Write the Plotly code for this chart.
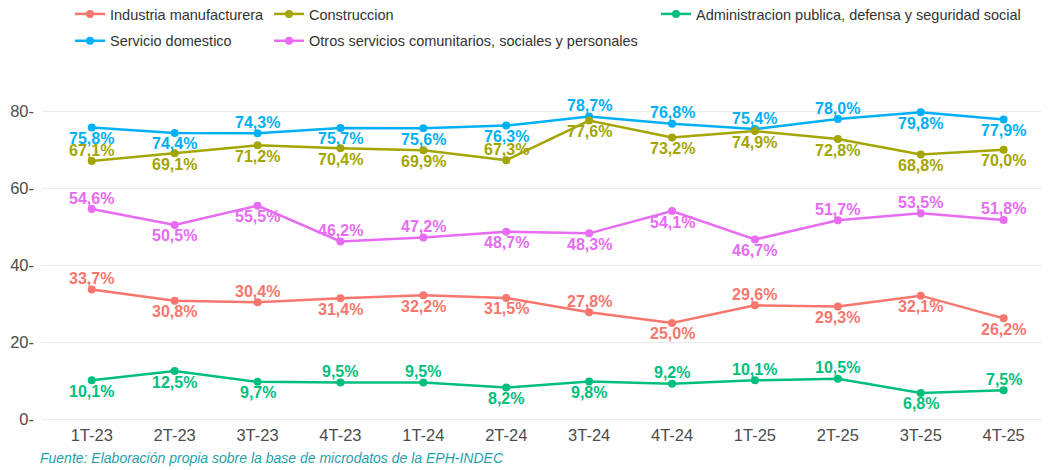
import plotly.graph_objects as go

quarters = ["1T-23", "2T-23", "3T-23", "4T-23", "1T-24", "2T-24",
            "3T-24", "4T-24", "1T-25", "2T-25", "3T-25", "4T-25"]

industria = [33.7, 30.8, 30.4, 31.4, 32.2, 31.5, 27.8, 25.0, 29.6, 29.3, 32.1, 26.2]
construccion = [67.1, 69.1, 71.2, 70.4, 69.9, 67.3, 77.6, 73.2, 74.9, 72.8, 68.8, 70.0]
administracion = [10.1, 12.5, 9.7, 9.5, 9.5, 8.2, 9.8, 9.2, 10.1, 10.5, 6.8, 7.5]
servicio = [75.8, 74.4, 74.3, 75.7, 75.6, 76.3, 78.7, 76.8, 75.4, 78.0, 79.8, 77.9]
otros = [54.6, 50.5, 55.5, 46.2, 47.2, 48.7, 48.3, 54.1, 46.7, 51.7, 53.5, 51.8]

y_ticks = [0, 20, 40, 60, 80]

# label placement (u = above, d = below), mimics the repelled labels
pos_industria = "ududddududdd"
pos_construccion = "uddddudddddd"
pos_administracion = "ddduudduuudu"
pos_servicio = "dduddduuuudd"
pos_otros = "udduudddduuu"

series = [
    ("Industria manufacturera", industria, "#F8766D", pos_industria, "legend"),
    ("Servicio domestico", servicio, "#00B0F6", pos_servicio, "legend"),
    ("Construccion", construccion, "#A3A500", pos_construccion, "legend2"),
    ("Otros servicios comunitarios, sociales y personales", otros, "#E76BF3", pos_otros, "legend2"),
    ("Administracion publica, defensa y seguridad social", administracion, "#00BF7D", pos_administracion, "legend3"),
]

fig = go.Figure()
labels = []

for name, vals, color, codes, leg in series:
    fig.add_trace(
        go.Scatter(
            x=quarters,
            y=vals,
            name=name,
            legendgroup=name,
            mode="lines+markers",
            line={"color": color, "width": 2.5},
            marker={"color": color, "size": 8},
            legend=leg,
            cliponaxis=False,
        )
    )
    for q, v, c in zip(quarters, vals, codes):
        labels.append(
            {
                "x": q,
                "y": v,
                "xref": "x",
                "yref": "y",
                "text": "<b>" + f"{v:.1f}%".replace(".", ",") + "</b>",
                "showarrow": False,
                "yshift": 11 if c == "u" else -11,
                "font": {"color": color, "size": 16, "family": "Liberation Sans, Arial"},
            }
        )

# page body has an 8px offset; plot area sits at 42px left / 96px top on the page
legend_style = {
    "orientation": "v",
    "xanchor": "left",
    "yanchor": "top",
    "y": 1 + 98 / 327,
    "font": {"size": 14.5, "color": "#333333", "family": "Liberation Sans, Arial"},
    "bgcolor": "rgba(0,0,0,0)",
    "tracegroupgap": 5,
    "itemwidth": 30,
}

labels.append(
    {
        "text": "Fuente: Elaboración propia sobre la base de microdatos de la EPH-INDEC",
        "xref": "paper",
        "yref": "paper",
        "x": -0.004,
        "y": -0.107,
        "xanchor": "left",
        "yanchor": "middle",
        "showarrow": False,
        "font": {"size": 14, "color": "#1f9fae", "style": "italic"},
    }
)

fig.update_layout(
    width=1041,
    height=462,
    paper_bgcolor="white",
    plot_bgcolor="white",
    margin={"l": 34, "r": 0, "t": 88, "b": 47, "autoexpand": False},
    font={"family": "Liberation Sans, Arial", "color": "#4d4d4d"},
    legend={**legend_style, "x": (70 - 42) / 1007},
    legend2={**legend_style, "x": (269 - 42) / 1007},
    legend3={**legend_style, "x": (656 - 42) / 1007},
    annotations=labels,
)

fig.update_xaxes(
    type="category",
    range=[-0.6, 11.547],
    showgrid=False,
    zeroline=False,
    showline=False,
    tickfont={"size": 16.5, "color": "#4d4d4d"},
    ticks="",
    automargin=False,
)

fig.update_yaxes(
    range=[-1, 84],
    tickvals=y_ticks,
    ticktext=[f"{t}-" for t in y_ticks],
    showgrid=True,
    gridcolor="#ebebeb",
    gridwidth=1.2,
    zeroline=False,
    showline=False,
    tickfont={"size": 16.5, "color": "#4d4d4d"},
    ticks="",
    ticklabelstandoff=7,
    automargin=False,
)

fig.write_html("out.html")
